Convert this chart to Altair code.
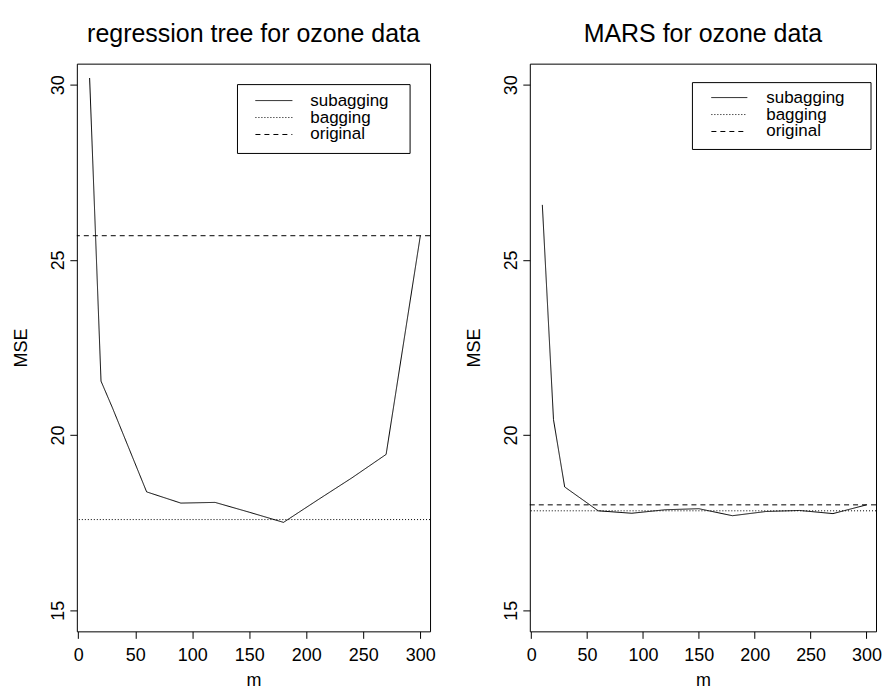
import altair as alt
import pandas as pd

# ---- data ----
m_values = [10, 20, 30, 60, 90, 120, 150, 180, 210, 240, 270, 300]
tree_subagging = [30.19, 21.54, 20.78, 18.38, 18.06, 18.08, 17.80, 17.51, 18.15, 18.78, 19.45, 25.69]
mars_subagging = [26.57, 20.44, 18.52, 17.84, 17.77, 17.87, 17.90, 17.70, 17.82, 17.85, 17.76, 18.01]
tree_bagging = 17.59
tree_original = 25.69
mars_bagging = 17.84
mars_original = 18.01

series = ["subagging", "bagging", "original"]
dash_patterns = [[1, 0], [1, 2], [5, 4]]
x_ticks = [0, 50, 100, 150, 200, 250, 300]
y_ticks = [15, 20, 25, 30]
panel_titles = ["regression tree for ozone data", "MARS for ozone data"]

FONT = "Liberation Sans"


def legend_layers(box, line_x, rows_y, text_x):
    """Legend box drawn inside the panel (pixel offsets from the plot's top-left)."""
    one = pd.DataFrame({"k": [0]})
    layers = [
        alt.Chart(one).mark_rect(fill="white", stroke="black", strokeWidth=1).encode(
            x=alt.value(box[0]), x2=alt.value(box[1]),
            y=alt.value(box[2]), y2=alt.value(box[3]))
    ]
    for name, dash, ry in zip(series, dash_patterns, rows_y):
        row = pd.DataFrame({"label": [name]})
        layers.append(
            alt.Chart(row).mark_rule(color="black", strokeWidth=1, strokeDash=dash).encode(
                x=alt.value(line_x[0]), x2=alt.value(line_x[1]), y=alt.value(ry)))
        layers.append(
            alt.Chart(row).mark_text(align="left", baseline="middle", font=FONT,
                                     fontSize=17, color="black").encode(
                x=alt.value(text_x), y=alt.value(ry), text="label:N"))
    return layers


def panel(title, sub, bag, orig, width, legend_spec):
    line_df = pd.DataFrame({"m": m_values, "MSE": sub, "type": "subagging"})
    rule_df = pd.DataFrame({"MSE": [bag, orig], "type": ["bagging", "original"]})

    dash = alt.StrokeDash("type:N", scale=alt.Scale(domain=series, range=dash_patterns),
                          legend=None)
    x = alt.X(
        "m:Q",
        scale=alt.Scale(domain=[-1.2, 308.5], nice=False, zero=False),
        axis=alt.Axis(values=x_ticks, title="m", grid=False, domain=False,
                      tickSize=7, tickColor="black", labelColor="black",
                      labelFont=FONT, labelFontSize=18, labelPadding=8,
                      labelFlush=False, titleFont=FONT, titleFontSize=18,
                      titleFontWeight="normal", titleColor="black", titlePadding=7),
    )
    y = alt.Y(
        "MSE:Q",
        scale=alt.Scale(domain=[14.4, 30.6], nice=False, zero=False),
        axis=alt.Axis(values=y_ticks, title="MSE", grid=False, domain=False,
                      tickSize=7, tickColor="black", labelColor="black",
                      labelFont=FONT, labelFontSize=18, labelPadding=2,
                      labelAngle=270, labelFlush=False, titleFont=FONT,
                      titleFontSize=18, titleFontWeight="normal",
                      titleColor="black", titlePadding=19),
    )
    line = alt.Chart(line_df).mark_line(color="black", strokeWidth=1).encode(
        x=x, y=y, strokeDash=dash)
    rules = alt.Chart(rule_df).mark_rule(color="black", strokeWidth=1).encode(
        y=alt.Y("MSE:Q"), strokeDash=dash)
    return alt.layer(line, rules, *legend_layers(**legend_spec)).properties(
        width=width, height=569,
        title=alt.Title(title, font=FONT, fontSize=25, fontWeight="normal",
                        color="black", anchor="middle", frame="group", offset=17),
    )


left = panel(panel_titles[0], tree_subagging, tree_bagging, tree_original, 354,
             dict(box=(161, 334, 21, 90), line_x=(179, 216), rows_y=(37, 54, 71), text_x=234))
right = panel(panel_titles[1], mars_subagging, mars_bagging, mars_original, 347,
              dict(box=(163, 342, 19, 86), line_x=(182, 218), rows_y=(34, 51, 68), text_x=237))

chart = (
    alt.hconcat(left, right, spacing=29)
    .properties(padding={"left": 4, "top": 12, "right": 0, "bottom": 0})
    .configure_view(stroke="black", strokeWidth=1)
)

chart.save("out.html", embed_options={"renderer": "svg", "actions": False})
